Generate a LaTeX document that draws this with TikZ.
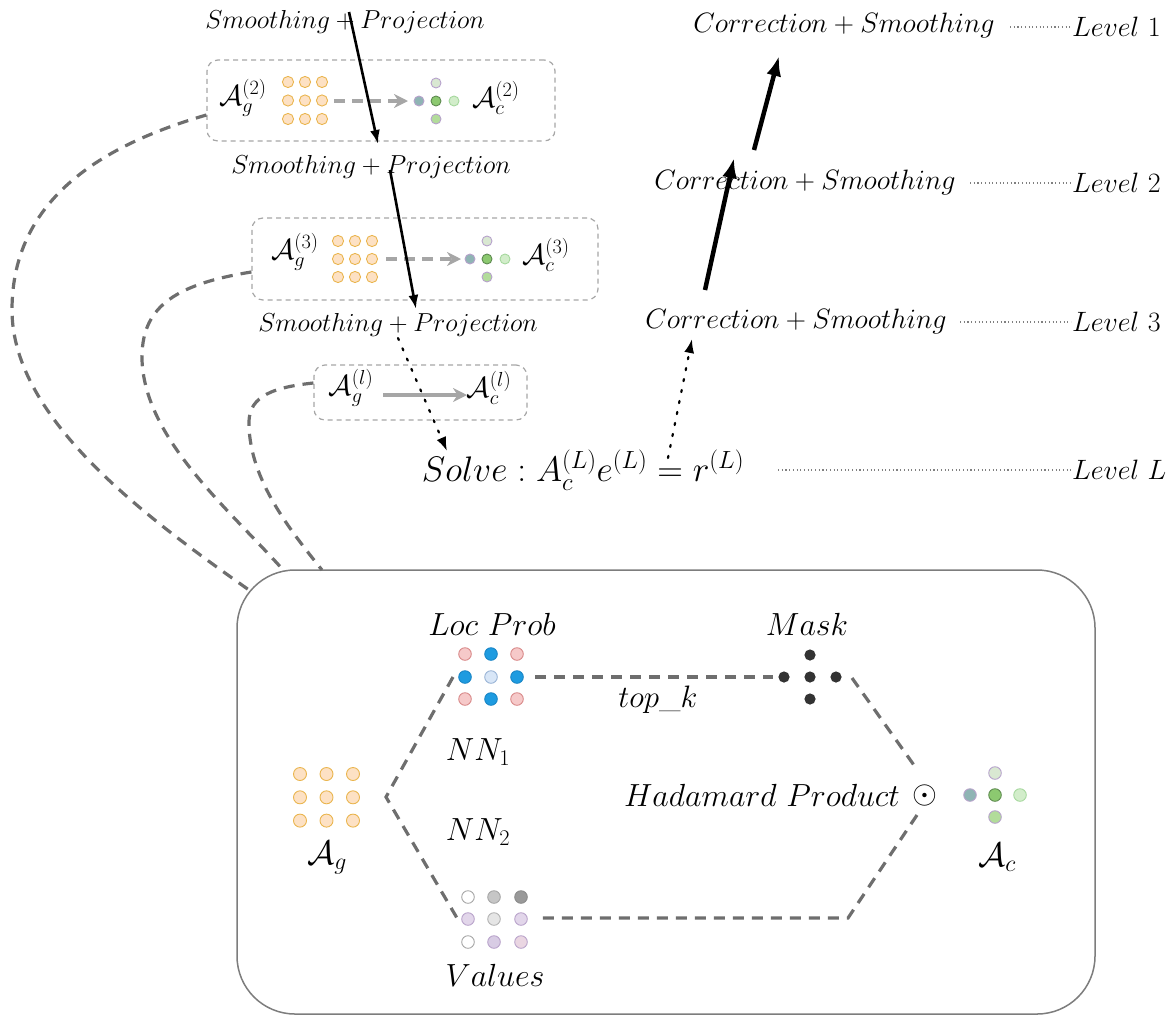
\RequirePackage{fix-cm}
\documentclass[tikz,border=0pt]{standalone}
\usetikzlibrary{arrows.meta}
\definecolor{orfill}{HTML}{FDE1C4}
\definecolor{ordraw}{HTML}{EAB54E}
\definecolor{dgray}{HTML}{6E6E6E}
\definecolor{lgray}{HTML}{A6A6A6}
\definecolor{pkfill}{HTML}{F6C9C9}
\definecolor{pkdraw}{HTML}{D98A8A}
\definecolor{bluef}{HTML}{1E9BE0}
\definecolor{blued}{HTML}{1A86C6}
\definecolor{lbfill}{HTML}{D8E6F7}
\definecolor{lbdraw}{HTML}{9AB4D6}
\definecolor{maskc}{HTML}{333333}
\definecolor{ctop}{HTML}{D9E8D2}
\definecolor{purd}{HTML}{B7A2CC}
\definecolor{cleft}{HTML}{8FB4B4}
\definecolor{cmid}{HTML}{8CC970}
\definecolor{cmidd}{HTML}{5E8A50}
\definecolor{cright}{HTML}{D2EDCA}
\definecolor{crightd}{HTML}{A6D89E}
\definecolor{cbot}{HTML}{B2DC9A}
\definecolor{lav}{HTML}{E2D6EA}
\definecolor{lavd}{HTML}{B9A3CB}
\definecolor{lav2}{HTML}{D8CCE4}
\definecolor{pklav}{HTML}{EAD6E2}
\tikzset{
  ttext/.style={inner sep=1pt,font=\fontsize{26}{31}\selectfont},
  btext/.style={inner sep=1pt,font=\fontsize{32}{38}\selectfont},
  ltext/.style={inner sep=1pt,font=\fontsize{28}{33}\selectfont},
  atext/.style={inner sep=1pt,font=\fontsize{29}{34}\selectfont},
  sbox/.style={draw=lgray,dashed,dash pattern=on 5pt off 4pt,line width=1.2pt,rounded corners=11pt},
  link/.style={draw=dgray,line width=3.2pt,dash pattern=on 11pt off 8pt},
  garrow/.style={draw=lgray,line width=3.2pt,-{Stealth[length=14pt,width=14pt]}},
  karrow/.style={line width=2.6pt,-{Latex[length=14pt,width=10pt]}},
  kbig/.style={line width=4.5pt,-{Latex[length=20pt,width=15pt]}},
  kdot/.style={line width=2.2pt,dash pattern=on 2.2pt off 9pt,line cap=round,-{Latex[length=14pt,width=10pt]}},
  lvline/.style={draw=gray,line width=1.1pt,dash pattern=on 1.1pt off 2.6pt},
  odot/.style={line width=0.9pt,draw=ordraw,fill=orfill},
}
\newcommand\mydot[4]{\filldraw[line width=0.9pt,draw=#3,fill=#4] (#1) circle[radius=#2];}
\begin{document}
\begin{tikzpicture}[x=1pt,y=-1pt]
\useasboundingbox (0,0) rectangle (1174,1015);
% ---- top-left descending chain
\node[ttext] (sp1) at (345,22) {$Smoothing+Projection$};
\node[sbox,minimum width=348pt,minimum height=81pt] (b2) at (381,100.5) {};
\node[atext] (ag2) at (243,98) {$\mathcal{A}_g^{(2)}$};
\node[atext] (ac2) at (496,98) {$\mathcal{A}_c^{(2)}$};
\foreach \i in {0,1,2} \foreach \j in {0,1,2} \filldraw[odot] ({288+\i*17},{82+\j*18.5}) circle[radius=5.6];
\coordinate (g2a) at (334,101); \coordinate (g2b) at (408,101);
\draw[garrow,dash pattern=on 11pt off 7pt] (g2a) -- (g2b);
\mydot{436,83}{5}{purd}{ctop}
\mydot{419,101}{5}{purd}{cleft}
\mydot{436,101}{5}{cmidd}{cmid}
\mydot{454,101}{5}{crightd}{cright}
\mydot{436,119}{5}{purd}{cbot}
\node[ttext] (sp2) at (371,167) {$Smoothing+Projection$};
\node[sbox,minimum width=346pt,minimum height=82pt] (b3) at (425,259) {};
\node[atext] (ag3) at (295,252) {$\mathcal{A}_g^{(3)}$};
\node[atext,anchor=west] (ac3) at (521,255) {$\mathcal{A}_c^{(3)}$};
\foreach \i in {0,1,2} \foreach \j in {0,1,2} \filldraw[odot] ({338+\i*17},{241+\j*18}) circle[radius=5.6];
\coordinate (g3a) at (386,259); \coordinate (g3b) at (461,259);
\draw[garrow,dash pattern=on 11pt off 7pt] (g3a) -- (g3b);
\mydot{487,241}{5}{purd}{ctop}
\mydot{470,259}{5}{purd}{cleft}
\mydot{487,259}{5}{cmidd}{cmid}
\mydot{505,259}{5}{crightd}{cright}
\mydot{487,277}{5}{purd}{cbot}
\node[ttext] (sp3) at (398,325) {$Smoothing+Projection$};
\node[sbox,minimum width=213pt,minimum height=55pt] (bl) at (420.5,392.5) {};
\node[atext] (agl) at (351,388) {$\mathcal{A}_g^{(l)}$};
\node[atext] (acl) at (489,388) {$\mathcal{A}_c^{(l)}$};
\coordinate (gla) at (383,395); \coordinate (glb) at (467,395);
\draw[garrow] (gla) -- (glb);
% black arrows
\coordinate (k1a) at (349,12); \coordinate (k1b) at (378,144);
\draw[karrow] (k1a) -- (k1b);
\coordinate (k2a) at (390,170); \coordinate (k2b) at (416,309);
\draw[karrow] (k2a) -- (k2b);
\coordinate (k3a) at (398,338); \coordinate (k3b) at (447,451);
\draw[kdot] (k3a) -- (k3b);
% ---- right side
\node[btext,font=\fontsize{35.5}{42}\selectfont] (solve) at (583,470) {$Solve: A_c^{(L)}e^{(L)}=r^{(L)}$};
\node[ltext] (cs3) at (796,321) {$Correction+Smoothing$};
\node[ltext] (cs2) at (805,182) {$Correction+Smoothing$};
\node[ltext] (cs1) at (844,25) {$Correction+Smoothing$};
\node[ltext,anchor=west] (l1) at (1071,27) {$Level\ 1$};
\node[ltext,anchor=west] (l2) at (1071,183) {$Level\ 2$};
\node[ltext,anchor=west] (l3) at (1071,322) {$Level\ 3$};
\node[ltext,anchor=west] (lL) at (1071,470) {$Level\ L$};
\draw[lvline] (1010,27) -- (l1.west);
\draw[lvline] (970,183) -- (l2.west);
\draw[lvline] (960,322) -- (l3.west);
\draw[lvline] (778,470) -- (lL.west);
\coordinate (r0a) at (668,458); \coordinate (r0b) at (692,339);
\draw[kdot] (r0a) -- (r0b);
\coordinate (r1a) at (705,290); \coordinate (r1b) at (734,158);
\draw[kbig] (r1a) -- (r1b);
\coordinate (r2a) at (754,150); \coordinate (r2b) at (779,56);
\draw[kbig] (r2a) -- (r2b);
% ---- bottom box
\draw[draw=dgray!90,line width=1.5pt,rounded corners=58pt] (237,570) rectangle (1095,1014);
\coordinate (e1) at (249,590); \coordinate (e2) at (285,572); \coordinate (e3) at (322,570);
\draw[link] (b2.west |- 0,115) .. controls (85,150) and (12,210) .. (12,310) .. controls (12,420) and (150,520) .. (e1);
\draw[link] (b3.west |- 0,272) .. controls (170,285) and (141,310) .. (142,360) .. controls (145,440) and (230,510) .. (e2);
\draw[link] (bl.west |- 0,383) .. controls (265,388) and (248,400) .. (249,425) .. controls (250,480) and (290,530) .. (e3);
% A_g grid
\foreach \i in {0,1,2} \foreach \j in {0,1,2} \filldraw[odot] ({300+\i*26.5},{774+\j*23.3}) circle[radius=6.5];
\node[btext,font=\fontsize{34}{40}\selectfont] (Ag) at (327,858) {$\mathcal{A}_g$};
% Loc prob grid
\node[btext] (lpl) at (492,624) {$Loc\ Prob$};
\mydot{465,654}{6.3}{pkdraw}{pkfill}
\mydot{491,654}{6.3}{blued}{bluef}
\mydot{517,654}{6.3}{pkdraw}{pkfill}
\mydot{465,677}{6.3}{blued}{bluef}
\mydot{491,677}{6.3}{lbdraw}{lbfill}
\mydot{517,677}{6.3}{blued}{bluef}
\mydot{465,699}{6.3}{pkdraw}{pkfill}
\mydot{491,699}{6.3}{blued}{bluef}
\mydot{517,699}{6.3}{pkdraw}{pkfill}
% Mask
\node[btext] (mk) at (807,624) {$Mask$};
\foreach \p in {{810,655},{784,677},{810,677},{836,677},{810,699}} \fill[maskc] (\p) circle[radius=5.6];
\node[btext,font=\fontsize{31}{36}\selectfont] (topk) at (658,700) {$top\_k$};
\node[btext] (nn1) at (478,752) {$NN_1$};
\node[btext] (nn2) at (478,832) {$NN_2$};
\node[btext] (had) at (762,795) {$Hadamard\ Product$};
\node[btext,inner sep=0pt] (od) at (925,795) {$\odot$};
% A_c cross
\mydot{995,773}{6.3}{purd}{ctop}
\mydot{970,795}{6.3}{lavd}{cleft}
\mydot{995,795}{6.3}{cmidd}{cmid}
\mydot{1020,795}{6.3}{crightd}{cright}
\mydot{995,817}{6.3}{purd}{cbot}
\node[btext,font=\fontsize{34}{40}\selectfont] (Ac) at (997,857) {$\mathcal{A}_c$};
% Values grid
\mydot{468,897}{6.3}{gray!70}{white}
\mydot{494,897}{6.3}{gray!70}{gray!45}
\mydot{521,897}{6.3}{gray!90}{gray!80}
\mydot{468,919}{6.3}{lavd}{lav}
\mydot{494,919}{6.3}{gray!60}{gray!20}
\mydot{521,919}{6.3}{lavd}{lav}
\mydot{468,942}{6.3}{gray!70}{white}
\mydot{494,942}{6.3}{lavd}{lav2}
\mydot{521,942}{6.3}{lavd}{pklav}
\node[btext] (val) at (495,975) {$Values$};
% dashed links inside
\coordinate (v) at (386,797);
\coordinate (lpw) at (453,677); \coordinate (lpe) at (535,677);
\coordinate (mkw) at (773,677); \coordinate (mke) at (852,678);
\coordinate (odn) at (916,768); \coordinate (ods) at (917,815);
\coordinate (br) at (848,918); \coordinate (vae) at (538,918);
\coordinate (vaw) at (457,918);
\draw[link] (lpw) -- (v) -- (vaw);
\draw[link] (lpe) -- (mkw);
\draw[link] (mke) -- (odn);
\draw[link] (ods) -- (br) -- (vae);
\end{tikzpicture}
\end{document}
